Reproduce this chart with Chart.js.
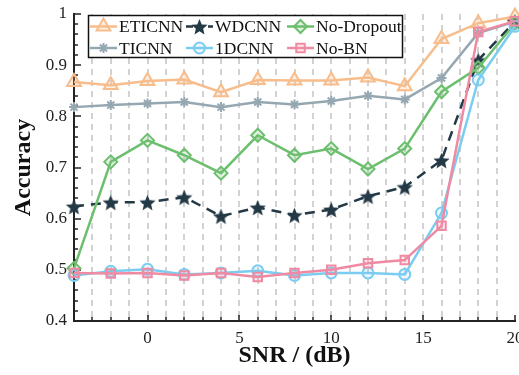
<!DOCTYPE html>
<html>
<head>
<meta charset="utf-8">
<script src="https://cdn.jsdelivr.net/npm/chart.js@4/dist/chart.umd.min.js"></script>
<style>
  html, body { margin: 0; padding: 0; background: #fff; }
</style>
</head>
<body>
<canvas id="myChart" width="519" height="375"></canvas>
<script>
var snr = [-4, -2, 0, 2, 4, 6, 8, 10, 12, 14, 16, 18, 20];
var eticnn    = [0.867, 0.861, 0.869, 0.872, 0.847, 0.871, 0.870, 0.870, 0.876, 0.859, 0.951, 0.982, 0.995];
var ticnn     = [0.818, 0.822, 0.825, 0.828, 0.818, 0.828, 0.823, 0.830, 0.840, 0.833, 0.875, 0.963, 0.985];
var wdcnn     = [0.624, 0.632, 0.632, 0.642, 0.605, 0.622, 0.607, 0.618, 0.644, 0.662, 0.714, 0.910, 0.985];
var noDropout = [0.503, 0.711, 0.753, 0.724, 0.689, 0.763, 0.724, 0.737, 0.697, 0.737, 0.848, 0.895, 0.982];
var cnn1d     = [0.489, 0.497, 0.501, 0.491, 0.494, 0.498, 0.489, 0.494, 0.494, 0.491, 0.611, 0.871, 0.976];
var noBN      = [0.494, 0.493, 0.494, 0.489, 0.494, 0.486, 0.494, 0.500, 0.513, 0.519, 0.586, 0.965, 0.986];
var xTickLabels = [0, 5, 10, 15, 20];
var yTickLabels = [0.4, 0.5, 0.6, 0.7, 0.8, 0.9, 1];

var serif = "'Liberation Serif', 'DejaVu Serif', serif";

function pts(arr) {
  return arr.map(function (v, i) { return { x: snr[i], y: v }; });
}

// five point star marker for WDCNN
function makeStar(color, r) {
  var c = document.createElement('canvas');
  var s = Math.ceil(r * 2 + 2);
  c.width = s; c.height = s;
  var g = c.getContext('2d');
  g.fillStyle = color;
  g.beginPath();
  for (var k = 0; k < 10; k++) {
    var rr = k % 2 === 0 ? r : r * 0.45;
    var ang = -Math.PI / 2 + k * Math.PI / 5;
    var px = s / 2 + rr * Math.cos(ang), py = s / 2 + 1 + rr * Math.sin(ang);
    if (k === 0) g.moveTo(px, py); else g.lineTo(px, py);
  }
  g.closePath();
  g.fill();
  return c;
}
var starImg = makeStar('#233945', 8.5);

var series = [
  { label: 'ETICNN', data: pts(eticnn), borderColor: '#F7BD8C', backgroundColor: 'rgba(247,189,140,0.25)',
    pointStyle: 'triangle', pointRadius: 8, order: 5 },
  { label: 'WDCNN', data: pts(wdcnn), borderColor: '#233945', backgroundColor: '#233945',
    pointStyle: starImg, pointRadius: 8, borderDash: [10, 7], order: 3 },
  { label: 'No-Dropout', data: pts(noDropout), borderColor: '#6CBF6E', backgroundColor: 'rgba(108,191,110,0.2)',
    pointStyle: 'rectRot', pointRadius: 6.5, order: 2 },
  { label: 'TICNN', data: pts(ticnn), borderColor: '#95A8B2', backgroundColor: 'rgba(149,168,178,0.5)',
    pointStyle: 'star', pointRadius: 5, order: 4 },
  { label: '1DCNN', data: pts(cnn1d), borderColor: '#7ACCF0', backgroundColor: 'rgba(122,204,240,0.15)',
    pointStyle: 'circle', pointRadius: 5.5, order: 1 },
  { label: 'No-BN', data: pts(noBN), borderColor: '#F08AA3', backgroundColor: 'rgba(240,138,163,0.2)',
    pointStyle: 'rect', pointRadius: 6, order: 0 }
];

var datasets = series.map(function (s) {
  return {
    label: s.label,
    data: s.data,
    borderColor: s.borderColor,
    backgroundColor: s.backgroundColor,
    borderWidth: 2.5,
    borderDash: s.borderDash || [],
    pointStyle: s.pointStyle,
    pointRadius: s.pointRadius,
    pointHoverRadius: s.pointRadius,
    pointBorderWidth: 2,
    pointBorderColor: s.borderColor,
    pointBackgroundColor: s.backgroundColor,
    tension: 0,
    fill: false,
    clip: false,
    order: s.order
  };
});

function drawMarker(ctx, ds, x, y) {
  ctx.save();
  ctx.setLineDash([]);
  ctx.fillStyle = ds.pointBackgroundColor;
  ctx.strokeStyle = ds.pointBorderColor;
  ctx.lineWidth = ds.pointBorderWidth;
  Chart.helpers.drawPoint(ctx, { pointStyle: ds.pointStyle, radius: ds.pointRadius, rotation: 0, borderWidth: ds.pointBorderWidth }, x, y);
  ctx.restore();
}

var decor = {
  id: 'decor',
  beforeDatasetsDraw: function (chart) {
    var ctx = chart.ctx, xs = chart.scales.x, ys = chart.scales.y, a = chart.chartArea;
    var xMin = snr[0], xMax = snr[snr.length - 1];
    var v, px, py;
    ctx.save();
    // dashed vertical grid
    ctx.strokeStyle = '#c4c4c4';
    ctx.lineWidth = 1.5;
    ctx.setLineDash([6, 5]);
    for (v = xMin + 1; v < xMax; v++) {
      px = Math.round(xs.getPixelForValue(v));
      ctx.beginPath(); ctx.moveTo(px, a.top); ctx.lineTo(px, a.bottom); ctx.stroke();
    }
    ctx.setLineDash([]);
    // inward ticks
    ctx.strokeStyle = '#222';
    ctx.lineWidth = 1.5;
    for (v = xMin; v <= xMax; v++) {
      px = Math.round(xs.getPixelForValue(v));
      ctx.beginPath(); ctx.moveTo(px, a.bottom); ctx.lineTo(px, a.bottom - (v % 5 === 0 ? 6 : 4)); ctx.stroke();
    }
    var yMin = yTickLabels[0], yMax = yTickLabels[yTickLabels.length - 1];
    var n = Math.round((yMax - yMin) / 0.02);
    for (var k = 0; k <= n; k++) {
      py = Math.round(ys.getPixelForValue(yMin + k * 0.02));
      ctx.beginPath(); ctx.moveTo(a.left, py); ctx.lineTo(a.left + (k % 5 === 0 ? 7 : 4), py); ctx.stroke();
    }
    // axis lines
    ctx.lineWidth = 2;
    ctx.beginPath();
    ctx.moveTo(a.left, a.top - 1);
    ctx.lineTo(a.left, a.bottom);
    ctx.lineTo(a.right + 1, a.bottom);
    ctx.stroke();
    ctx.restore();
  },
  afterDraw: function (chart) {
    var ctx = chart.ctx;
    var sets = chart.data.datasets;
    ctx.save();
    ctx.fillStyle = '#fff';
    ctx.fillRect(88, 15, 315, 43);
    ctx.strokeStyle = '#111';
    ctx.lineWidth = 1.5;
    ctx.strokeRect(88.5, 15.5, 314, 42);
    var cols = [90, 186, 287];
    var rows = [26.5, 48];
    ctx.font = '17.5px ' + serif;
    ctx.textBaseline = 'middle';
    for (var i = 0; i < sets.length; i++) {
      var ds = sets[i];
      var x0 = cols[i % 3], y0 = rows[Math.floor(i / 3)];
      ctx.strokeStyle = ds.borderColor;
      ctx.lineWidth = ds.borderWidth;
      ctx.setLineDash(ds.borderDash && ds.borderDash.length ? [7, 4] : []);
      ctx.beginPath(); ctx.moveTo(x0, y0); ctx.lineTo(x0 + 27, y0); ctx.stroke();
      drawMarker(ctx, ds, x0 + 13.5, y0);
      ctx.fillStyle = '#111';
      ctx.fillText(ds.label, x0 + 29, y0 + 1);
    }
    ctx.restore();
  }
};

new Chart('myChart', {
  type: 'line',
  data: { datasets: datasets },
  options: {
    responsive: false,
    animation: false,
    devicePixelRatio: 1,
    layout: { autoPadding: false, padding: { top: 14, right: 4, left: 0, bottom: 0 } },
    plugins: { legend: { display: false }, tooltip: { enabled: false } },
    scales: {
      x: {
        type: 'linear',
        min: snr[0],
        max: snr[snr.length - 1],
        afterBuildTicks: function (s) { s.ticks = xTickLabels.map(function (v) { return { value: v }; }); },
        afterFit: function (s) { s.height = 54; s.paddingRight = 0; s.paddingLeft = 0; },
        ticks: {
          autoSkip: false, maxRotation: 0, padding: 7, color: '#222',
          font: { family: serif, size: 17 },
          callback: function (v) { return String(v); }
        },
        grid: { display: false, drawTicks: false },
        border: { display: false },
        title: {
          display: true, text: 'SNR / (dB)', color: '#111',
          font: { family: serif, size: 24, weight: 'bold' },
          padding: { top: 0, bottom: 5 }
        }
      },
      y: {
        type: 'linear',
        min: yTickLabels[0],
        max: yTickLabels[yTickLabels.length - 1],
        afterBuildTicks: function (s) { s.ticks = yTickLabels.map(function (v) { return { value: v }; }); },
        afterFit: function (s) { s.width = 74; s.paddingTop = 0; s.paddingBottom = 0; },
        ticks: {
          padding: 7, color: '#222',
          font: { family: serif, size: 17 },
          callback: function (v) { return String(v); }
        },
        grid: { display: false, drawTicks: false },
        border: { display: false },
        title: {
          display: true, text: 'Accuracy', color: '#111',
          font: { family: serif, size: 24, weight: 'bold' },
          padding: { top: 9, bottom: 0 }
        }
      }
    }
  },
  plugins: [decor]
});
</script>
</body>
</html>
